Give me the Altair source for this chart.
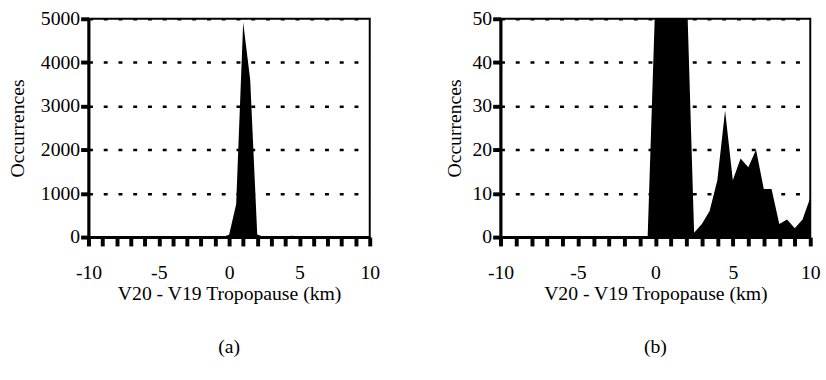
import altair as alt
import pandas as pd

# Difference in tropopause height between the two versions, 0.5 km bins
km = [-10.0, -9.5, -9.0, -8.5, -8.0, -7.5, -7.0, -6.5, -6.0, -5.5,
      -5.0, -4.5, -4.0, -3.5, -3.0, -2.5, -2.0, -1.5, -1.0, -0.5,
      0.0, 0.5, 1.0, 1.5, 2.0, 2.5, 3.0, 3.5, 4.0, 4.5,
      5.0, 5.5, 6.0, 6.5, 7.0, 7.5, 8.0, 8.5, 9.0, 9.5, 10.0]
occurrences = [0, 0, 0, 0, 0, 0, 0, 0, 0, 0,
               0, 0, 0, 0, 0, 0, 0, 0, 0, 0,
               55, 750, 4920, 3600, 60, 1, 3, 6, 13, 29,
               13, 18, 16, 20, 11, 11, 3, 4, 2, 4, 9]

x_ticks = list(range(-10, 11))
y_ticks_a = [0, 1000, 2000, 3000, 4000, 5000]
y_ticks_b = [0, 10, 20, 30, 40, 50]

df = pd.DataFrame({"km": km, "count": occurrences})

FONT = "Liberation Serif"
HEIGHT = 222


def panel(y_max, y_ticks, width, tag, y_title_pad):
    x_scale = alt.Scale(domain=[-10, 10], nice=False, zero=False)
    y_scale = alt.Scale(domain=[0, y_max], nice=False)
    return (
        alt.Chart(df)
        .mark_area(color="black", clip=True, interpolate="linear")
        .encode(
            x=alt.X(
                "km:Q",
                scale=x_scale,
                axis=alt.Axis(
                    values=x_ticks,
                    labelExpr="datum.value % 5 == 0 ? '' + datum.value : ''",
                    labelFlush=False,
                    labelOverlap=False,
                    labelBound=False,
                    title="V20 - V19 Tropopause (km)",
                    grid=False,
                    ticks=True,
                    tickColor="black",
                    tickSize=9,
                    tickWidth=4,
                    labelPadding=17,
                    titlePadding=1,
                    zindex=2,
                ),
            ),
            y=alt.Y(
                "count:Q",
                scale=y_scale,
                axis=alt.Axis(
                    values=y_ticks,
                    format="d",
                    title="Occurrences",
                    grid=True,
                    gridDash=[4, 11],
                    gridWidth=2.5,
                    gridColor="black",
                    ticks=True,
                    tickColor="black",
                    tickSize=8,
                    tickWidth=4,
                    labelPadding=1,
                    titlePadding=y_title_pad,
                ),
            ),
        )
        .properties(
            width=width,
            height=HEIGHT,
            title=alt.TitleParams(
                tag, orient="bottom", font=FONT, fontSize=20,
                fontWeight="normal", offset=35,
            ),
        )
    )


chart = (
    alt.hconcat(
        panel(5000, y_ticks_a, 286, "(a)", 13),
        panel(50, y_ticks_b, 315, "(b)", 8),
        spacing=64,
    )
    .properties(padding={"left": 7, "top": 5, "right": 5, "bottom": 5},
                background="white")
    .configure_view(stroke="black", strokeWidth=2)
    .configure_axis(
        domainColor="black",
        domainWidth=3,
        labelFont=FONT,
        labelFontSize=20,
        labelColor="black",
        titleFont=FONT,
        titleFontSize=20,
        titleFontWeight="normal",
        titleColor="black",
    )
)

chart.save("out.html", embed_options={"renderer": "svg", "actions": False})
